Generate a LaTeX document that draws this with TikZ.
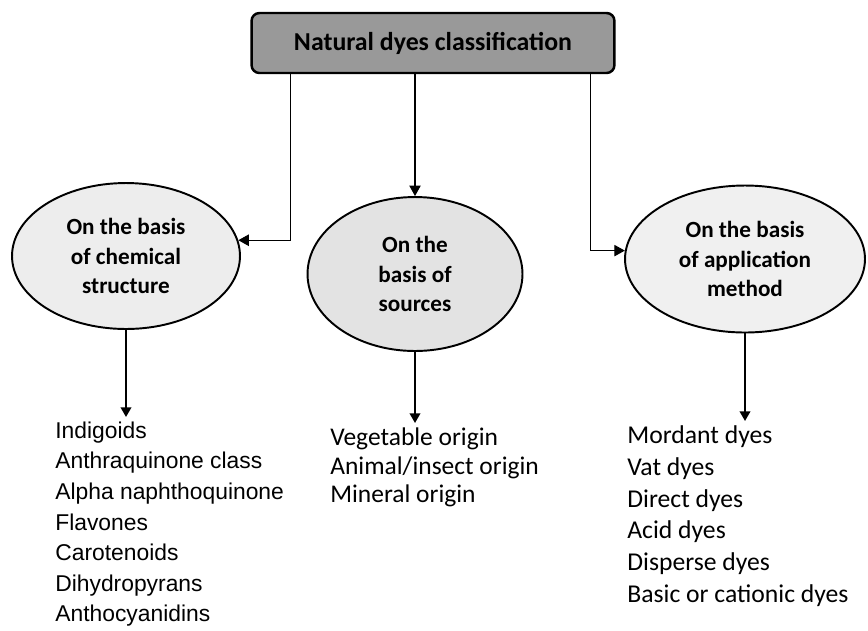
\documentclass[tikz,border=0pt]{standalone}
\usepackage{fontspec}
\setmainfont{Carlito}
\newfontfamily\arialfont{Liberation Sans}
\usetikzlibrary{shapes.geometric,arrows.meta,calc}

\begin{document}
\begin{tikzpicture}[x=0.02cm,y=-0.02cm,
    topbox/.style={draw, line width=1.4pt, rounded corners=4.5pt, fill=black!40,
        minimum width=7.26cm, minimum height=1.2cm, inner sep=0pt,
        font=\bfseries\fontsize{14.7}{17}\selectfont},
    basis/.style={ellipse, draw, line width=1.1pt, inner sep=0pt, align=center,
        font=\bfseries\fontsize{13.2}{16.6}\selectfont},
    itemlist/.style={anchor=north west, align=left, inner xsep=0pt, inner ysep=2.5pt},
    feed/.style={line width=0.6pt, -{Triangle[length=6pt,width=6.5pt]}},
    down/.style={line width=1.1pt, -{Triangle[length=5.5pt,width=6pt]}}]
    \useasboundingbox (0,0) rectangle (868,630);

    % Title box
    \node [topbox] (top) at (433,43) {Natural dyes classification};

    % Classification ellipses
    \node [basis, fill=black!7, minimum width=4.56cm, minimum height=2.92cm] (chem) at (126,256)
        {On the basis\\of chemical\\structure};
    \node [basis, fill=black!11, minimum width=4.3cm, minimum height=3.08cm] (src) at (415,274)
        {On the\\basis of\\sources};
    \node [basis, fill=black!6, minimum width=4.8cm, minimum height=2.94cm] (app) at (745,259)
        {On the basis\\of application\\method};

    % Lists of classes
    \node [itemlist, font=\arialfont\fontsize{13}{17.4}\selectfont] (chemlist) at (55,417)
        {Indigoids\\Anthraquinone class\\Alpha naphthoquinone\\Flavones\\Carotenoids\\Dihydropyrans\\Anthocyanidins};
    \node [itemlist, font=\fontsize{14.5}{16.3}\selectfont] (srclist) at (330,423)
        {Vegetable origin\\Animal/insect origin\\Mineral origin};
    \node [itemlist, font=\fontsize{14.6}{18.1}\selectfont] (applist) at (627,421)
        {Mordant dyes\\Vat dyes\\Direct dyes\\Acid dyes\\Disperse dyes\\Basic or cationic dyes};

    % From title to ellipses
    \draw [feed] ($(top.south west)+(40,0)$) |- (chem.8);
    \draw [feed] (top.south -| src.north) -- (src.north);
    \draw [feed] ($(top.south east)+(-25,0)$) |- (app.176);

    % From ellipses to lists
    \draw [down] (chem.south) -- (chem.south |- chemlist.north);
    \draw [down] (src.south) -- (src.south |- srclist.north);
    \draw [down] (app.south) -- (app.south |- applist.north);
\end{tikzpicture}
\end{document}
